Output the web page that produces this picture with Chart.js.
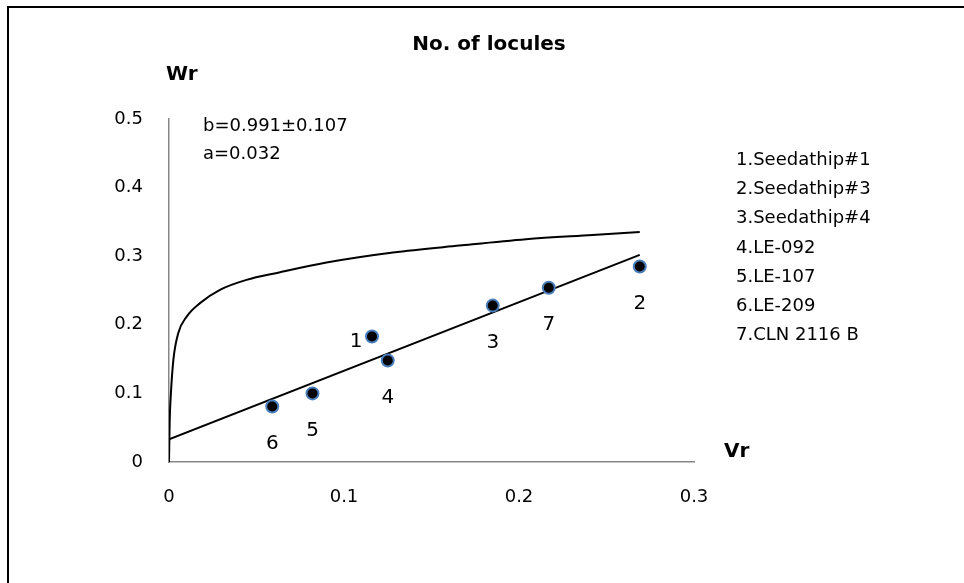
<!DOCTYPE html>
<html>
<head>
<meta charset="utf-8">
<script src="https://cdn.jsdelivr.net/npm/chart.js@4/dist/chart.umd.min.js"></script>
<style>
  body { margin: 0; background: #fff; }
  #wrap { width: 964px; height: 583px; position: relative; }
</style>
</head>
<body>
<div id="wrap"><canvas id="chart"></canvas></div>
<script>
// genotypes (Vr, Wr)
const genotypeNo = ['1', '2', '3', '4', '5', '6', '7'];
const genotypeNames = ['Seedathip#1', 'Seedathip#3', 'Seedathip#4', 'LE-092', 'LE-107', 'LE-209', 'CLN 2116 B'];
const vr = [0.116, 0.269, 0.185, 0.125, 0.082, 0.059, 0.217];
const wr = [0.183, 0.285, 0.228, 0.148, 0.100, 0.081, 0.254];

// regression line ends
const regVr = [0, 0.269];
const regWr = [0.033, 0.302];

// limiting curve, traced
const curveVr = [0, 0.0004, 0.0011, 0.0025, 0.0053, 0.0101, 0.0177, 0.0291, 0.0443, 0.0624, 0.09, 0.128, 0.166, 0.204, 0.242, 0.269];
const curveWr = [0, 0.06, 0.1005, 0.149, 0.188, 0.212, 0.2316, 0.251, 0.2655, 0.276, 0.2907, 0.3053, 0.3155, 0.3248, 0.331, 0.3354];

const xTicks = [0, 0.1, 0.2, 0.3];
const yTicks = [0, 0.1, 0.2, 0.3, 0.4, 0.5];

const FONT = '"DejaVu Sans", sans-serif';
const toXY = (xs, ys) => xs.map((x, i) => ({ x: x, y: ys[i] }));

const textPlugin = {
    id: 'texts',
    afterDraw(chart) {
        const ctx = chart.ctx;
        const xs = chart.scales.x, ys = chart.scales.y;
        ctx.save();

        // outer frame (runs off the right and bottom)
        ctx.strokeStyle = '#000';
        ctx.lineWidth = 2;
        ctx.beginPath();
        ctx.moveTo(8, 583);
        ctx.lineTo(8, 7);
        ctx.lineTo(964, 7);
        ctx.stroke();

        ctx.fillStyle = '#000';
        ctx.textBaseline = 'middle';

        ctx.font = 'bold 20px ' + FONT;
        ctx.textAlign = 'center';
        ctx.fillText('No. of locules', 489, 45);
        ctx.textAlign = 'left';
        ctx.fillText('Wr', 166, 75);
        ctx.fillText('Vr', 724, 452);

        ctx.font = '18px ' + FONT;
        ctx.fillText('b=0.991\u00b10.107', 203, 126);
        ctx.fillText('a=0.032', 203, 154);

        genotypeNames.forEach((n, i) => {
            ctx.fillText(genotypeNo[i] + '.' + n, 736, 160 + i * 29.3);
        });

        // number under each point ("1" sits to its left)
        ctx.font = '20px ' + FONT;
        ctx.textAlign = 'center';
        genotypeNo.forEach((lab, i) => {
            const px = xs.getPixelForValue(vr[i]);
            const py = ys.getPixelForValue(wr[i]);
            if (lab === '1') ctx.fillText(lab, px - 16, py + 5);
            else ctx.fillText(lab, px, py + 37);
        });
        ctx.restore();
    }
};

new Chart(document.getElementById('chart'), {
    type: 'scatter',
    data: {
        datasets: [
            {
                label: 'genotypes',
                data: toXY(vr, wr),
                backgroundColor: '#000',
                borderColor: '#4a7ebb',
                borderWidth: 2,
                pointRadius: 6,
                pointHoverRadius: 6
            },
            {
                label: 'regression',
                data: toXY(regVr, regWr),
                showLine: true,
                borderColor: '#000',
                borderWidth: 2,
                pointRadius: 0
            },
            {
                label: 'limit',
                data: toXY(curveVr, curveWr),
                showLine: true,
                borderColor: '#000',
                borderWidth: 2,
                pointRadius: 0,
                cubicInterpolationMode: 'monotone'
            }
        ]
    },
    options: {
        responsive: true,
        maintainAspectRatio: false,
        animation: false,
        layout: { padding: { left: 0, top: 119, right: 270, bottom: 0 } },
        plugins: {
            legend: { display: false },
            tooltip: { enabled: false }
        },
        scales: {
            x: {
                type: 'linear',
                min: 0,
                max: 0.3,
                afterBuildTicks: s => { s.ticks = xTicks.map(v => ({ value: v })); },
                afterFit: s => { s.height = 121; s.paddingLeft = 0; s.paddingRight = 0; },
                grid: { display: false, drawTicks: false },
                border: { display: true, color: '#868686', width: 1.5 },
                ticks: {
                    padding: 25,
                    color: '#000',
                    font: { family: FONT, size: 18 },
                    callback: v => String(+v.toFixed(1))
                }
            },
            y: {
                type: 'linear',
                min: 0,
                max: 0.5,
                afterBuildTicks: s => { s.ticks = yTicks.map(v => ({ value: v })); },
                afterFit: s => { s.width = 169; s.paddingTop = 0; s.paddingBottom = 0; },
                grid: { display: false, drawTicks: false },
                border: { display: true, color: '#868686', width: 1.5 },
                ticks: {
                    padding: 26,
                    color: '#000',
                    font: { family: FONT, size: 18 },
                    callback: v => String(+v.toFixed(1))
                }
            }
        }
    },
    plugins: [textPlugin]
});
</script>
</body>
</html>
